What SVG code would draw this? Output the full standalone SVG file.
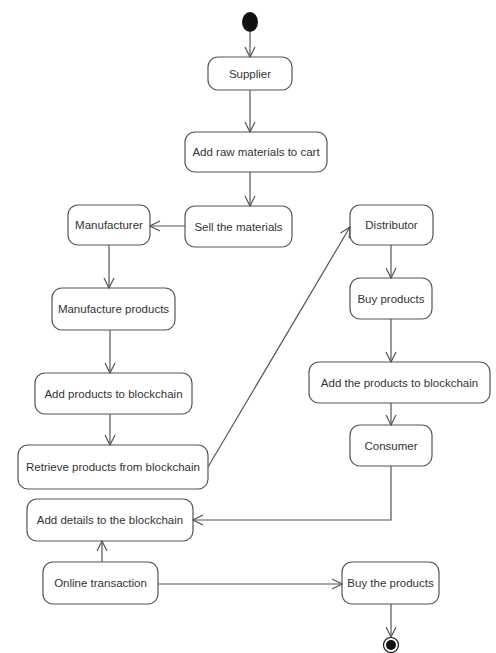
<svg xmlns="http://www.w3.org/2000/svg" width="496" height="653" viewBox="0 0 496 653">
<style>
.n rect{fill:#fff;stroke:#555;stroke-width:1.2}
.n text{font-family:"Liberation Sans",Arial,sans-serif;font-size:11.5px;fill:#333;text-anchor:middle;dominant-baseline:central}
#edges path{fill:none;stroke:#555;stroke-width:1.2;marker-end:url(#a)}
</style>
<defs>
<marker id="a" viewBox="0 0 12 12" refX="11" refY="6" markerWidth="12" markerHeight="12" markerUnits="userSpaceOnUse" orient="auto">
<path d="M1,1 L11,6 L1,11" fill="none" stroke="#555" stroke-width="1.2"/>
</marker>
</defs>
<rect width="496" height="653" fill="#fff"/>
<g id="start"><ellipse cx="250" cy="22" rx="8" ry="10" fill="#111"/></g>
<g id="supplier" class="n"><rect x="208" y="57" width="84" height="33" rx="10"/><text x="250" y="73.5">Supplier</text></g>
<g id="addraw" class="n"><rect x="185" y="132" width="142" height="40" rx="10"/><text x="256" y="152">Add raw materials to cart</text></g>
<g id="sell" class="n"><rect x="185" y="206" width="107" height="41" rx="10"/><text x="238.5" y="226.5">Sell the materials</text></g>
<g id="manufacturer" class="n"><rect x="68" y="205" width="82" height="40" rx="10"/><text x="109" y="225">Manufacturer</text></g>
<g id="manufacture" class="n"><rect x="52" y="288" width="123" height="42" rx="10"/><text x="113.5" y="309">Manufacture products</text></g>
<g id="addproducts" class="n"><rect x="35" y="373" width="157" height="41" rx="10"/><text x="113.5" y="393.5">Add products to blockchain</text></g>
<g id="retrieve" class="n"><rect x="18" y="445" width="190" height="44" rx="10"/><text x="113" y="467">Retrieve products from blockchain</text></g>
<g id="adddetails" class="n"><rect x="27" y="499" width="166" height="42" rx="10"/><text x="110" y="520">Add details to the blockchain</text></g>
<g id="online" class="n"><rect x="43" y="562" width="115" height="42" rx="10"/><text x="100.5" y="583">Online transaction</text></g>
<g id="buythe" class="n"><rect x="342" y="562" width="97" height="42" rx="10"/><text x="390.5" y="583">Buy the products</text></g>
<g id="distributor" class="n"><rect x="350" y="205" width="83" height="40" rx="10"/><text x="391.5" y="225">Distributor</text></g>
<g id="buyproducts" class="n"><rect x="350" y="278" width="82" height="41" rx="10"/><text x="391" y="298.5">Buy products</text></g>
<g id="addthe" class="n"><rect x="309" y="362" width="181" height="41" rx="10"/><text x="399.5" y="382.5">Add the products to blockchain</text></g>
<g id="consumer" class="n"><rect x="350" y="425" width="82" height="41" rx="10"/><text x="391" y="445.5">Consumer</text></g>
<g id="end"><circle cx="391" cy="645" r="7.5" fill="#fff" stroke="#111" stroke-width="1.2"/><circle cx="391" cy="645" r="5" fill="#111"/></g>
<g id="edges">
<path d="M250,32 L250,57"/>
<path d="M250,90 L250,132"/>
<path d="M250,172 L250,206"/>
<path d="M185,226 L150,226"/>
<path d="M109,245 L109,288"/>
<path d="M110,330 L110,373"/>
<path d="M110,414 L110,445"/>
<path d="M208,467 L350,227"/>
<path d="M391,245 L391,278"/>
<path d="M391,319 L391,362"/>
<path d="M391,403 L391,425"/>
<path d="M391,466 L391,520 L193,520"/>
<path d="M102,562 L102,541"/>
<path d="M158,584 L342,584"/>
<path d="M391,604 L391,637"/>
</g>
</svg>
